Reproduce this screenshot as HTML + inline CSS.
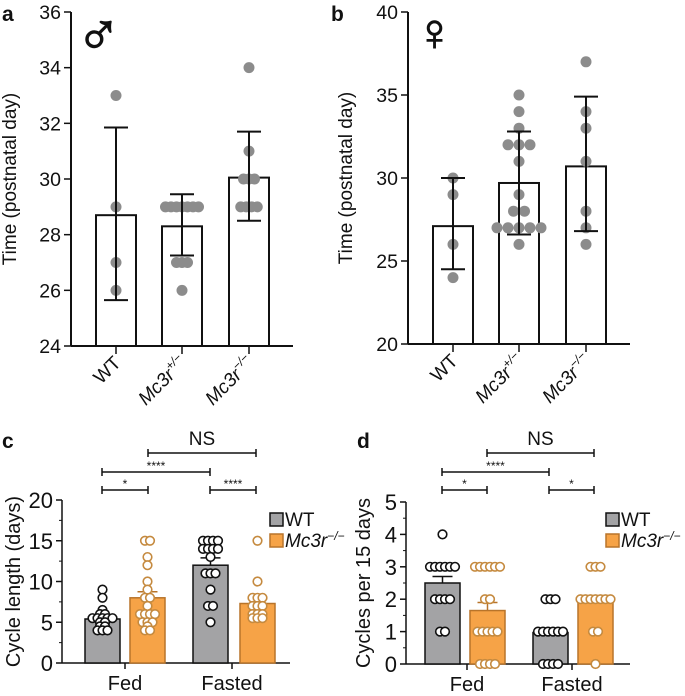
<!DOCTYPE html>
<html><head><meta charset="utf-8"><style>
body{margin:0;background:#fff;}
svg text{font-family:"Liberation Sans",Arial,sans-serif;fill:#111;}
</style></head><body>
<svg id="fig" width="685" height="691" xmlns="http://www.w3.org/2000/svg"></svg>
<script>
// Panel a (male puberty onset)
const aCats=["WT","Mc3r+/−","Mc3r−/−"];
const aMeans=[28.7,28.3,30.05];
const aErrLo=[25.65,27.25,28.5];
const aErrHi=[31.85,29.45,31.7];
const aPts=[[33,29,27,26],[29,29,29,29,29,29,29,27,27,27,26],[34,31,30,30,30,29,29,29,29]];
const aTicks=[24,26,28,30,32,34,36];
// Panel b (female)
const bMeans=[27.1,29.7,30.7];
const bErrLo=[24.5,26.6,26.8];
const bErrHi=[30,32.8,34.9];
const bPts=[[30,29,26,24],[35,34,33,32,32,32,31,29,28,28,27,27,27,27,27,26],[37,34,33,31,28,27,26]];
const bTicks=[20,25,30,35,40];
// Panel c (cycle length)
const cGroups=["Fed","Fasted"];
const cMeans=[[5.4,8.0],[12.0,7.3]];
const cSem=[[0.35,0.75],[0.9,0.6]];
const cPts=[[[9,8,6.5,6,6,5.5,5.5,5.5,5.5,5.5,5,5,4.5,4.5,4,4,4],[15,15,13,12,10,9,8,8,7,6,6,6,6,5,5,5,4.5,4,4]],
            [[15,15,15,15,14,14,14,14,13,11,11,11,9,7,7,5],[15,10,8,8,8,7,7,7,6,6,6,5.5,5.5,5.5]]];
const cTicks=[0,5,10,15,20];
// Panel d (cycles per 15 days)
const dMeans=[[2.5,1.65],[0.97,1.95]];
const dSem=[[0.2,0.25],[0.12,0.15]];
const dPts=[[[4,3,3,3,3,3,3,2,2,2,2,1,1],[3,3,3,3,3,3,2,2,1,1,1,1,1,0,0,0,0]],
            [[2,2,2,1,1,1,1,1,1,0,0,0,0],[3,3,3,2,2,2,2,2,2,2,1,1,0]]];
const dTicks=[0,1,2,3,4,5];

const NS="http://www.w3.org/2000/svg";
const svg=document.getElementById('fig');
function el(tag,attrs,parent){const e=document.createElementNS(NS,tag);for(const k in attrs)e.setAttribute(k,attrs[k]);(parent||svg).appendChild(e);return e;}
function txt(x,y,s,attrs,parent){const t=el('text',Object.assign({x:x,y:y},attrs||{}),parent);t.textContent=s;return t;}
function groupOffsets(vals,sp){const cnt={},idx={};vals.forEach(v=>cnt[v]=(cnt[v]||0)+1);return vals.map(v=>{idx[v]=(idx[v]||0);const o=(idx[v]-(cnt[v]-1)/2)*sp;idx[v]++;return o;});}

function catLabel(x,y,label){
  const t=el('text',{x:x,y:y,'text-anchor':'end','font-size':19,transform:`rotate(-45 ${x} ${y})`});
  
  
  if(label==="WT"){t.textContent="WT";return;}
  const m=label.match(/^Mc3r(.*)$/);
  const s1=el('tspan',{'font-style':'italic'},t);s1.textContent="Mc3r";
  const s2=el('tspan',{'font-size':12,dy:-8,'font-style':'italic'},t);s2.textContent=m[1];
}

function panelAB(o){
  const y=v=>o.y0+(v-o.vmin)/(o.vmax-o.vmin)*(o.y1-o.y0);
  const g=el('g',{});
  
  
  el('line',{x1:o.ax,y1:o.y1,x2:o.ax,y2:o.y0,stroke:'#111','stroke-width':2},g);
  el('line',{x1:o.ax,y1:o.y0,x2:o.axEnd,y2:o.y0,stroke:'#111','stroke-width':2},g);
  o.ticks.forEach(t=>{
    el('line',{x1:o.ax-7,y1:y(t),x2:o.ax,y2:y(t),stroke:'#111','stroke-width':1.5},g);
    const tl=txt(o.ax-10,y(t)+7,String(t),{'text-anchor':'end','font-size':19.5},g);
    
    
  });
  o.means.forEach((m,i)=>{
    const cx=o.cx[i];
    const b=el('rect',{x:cx-20,y:y(m),width:40,height:o.y0-y(m),fill:'#fff',stroke:'#111','stroke-width':2},g);
    
    
    el('line',{x1:cx,y1:o.y0,x2:cx,y2:o.y0+8,stroke:'#111','stroke-width':1.5},g);
    const offs=groupOffsets(o.pts[i],o.sp);
    o.pts[i].forEach((v,j)=>{
      const c=el('circle',{cx:cx+offs[j],cy:y(v),r:5.5,fill:'#8c8c8c'},g);
      
      
    });
    el('line',{x1:cx,y1:y(o.lo[i]),x2:cx,y2:y(o.hi[i]),stroke:'#111','stroke-width':2},g);
    el('line',{x1:cx-12,y1:y(o.lo[i]),x2:cx+12,y2:y(o.lo[i]),stroke:'#111','stroke-width':2},g);
    el('line',{x1:cx-12,y1:y(o.hi[i]),x2:cx+12,y2:y(o.hi[i]),stroke:'#111','stroke-width':2},g);
    catLabel(cx+6,o.y0+18,aCats[i]);
  });
  const yt=txt(0,0,'Time (postnatal day)',{'text-anchor':'middle','font-size':19,transform:`translate(${o.titleX} ${(o.y0+o.y1)/2}) rotate(-90)`},g);
  
  
}

panelAB({name:'panel-a',ax:71,axEnd:293,y0:346,y1:12,vmin:24,vmax:36,ticks:aTicks,means:aMeans,lo:aErrLo,hi:aErrHi,pts:aPts,cx:[116,182,249],sp:5.5,titleX:16});
panelAB({name:'panel-b',ax:408,axEnd:630,y0:344,y1:12,vmin:20,vmax:40,ticks:bTicks,means:bMeans,lo:bErrLo,hi:bErrHi,pts:bPts,cx:[453,519,586],sp:11,titleX:352});

function panelCD(o){
  const y=v=>o.y0-(v/o.vmax)*(o.y0-o.y1);
  const g=el('g',{});
  
  
  el('line',{x1:o.ax,y1:o.y1,x2:o.ax,y2:o.y0,stroke:'#111','stroke-width':1.5},g);
  el('line',{x1:o.ax,y1:o.y0,x2:o.axEnd,y2:o.y0,stroke:'#111','stroke-width':1.5},g);
  o.ticks.forEach((t,k)=>{
    el('line',{x1:o.ax-6,y1:y(t),x2:o.ax,y2:y(t),stroke:'#111','stroke-width':1.5},g);
    const tl=txt(o.ax-9,y(t)+8,String(t),{'text-anchor':'end','font-size':22},g);
    
    
    if(k<o.ticks.length-1){for(let m=1;m<o.minor;m++){const mv=t+(o.ticks[k+1]-t)*m/o.minor;el('line',{x1:o.ax-3,y1:y(mv),x2:o.ax,y2:y(mv),stroke:'#111','stroke-width':1},g);}}
  });
  const fills=['#a3a3a5','#f6a347'],strokes=['#111','#b8742a'],ptStroke=['#111','#c58a3f'];
  cGroups.forEach((gname,gi)=>{
    o.bx[gi].forEach((bx,si)=>{
      const m=o.means[gi][si];
      const b=el('rect',{x:bx,y:y(m),width:35,height:o.y0-y(m),fill:fills[si],stroke:strokes[si],'stroke-width':1.5},g);
      
      
      const cx=bx+17.5;
      el('line',{x1:cx,y1:y(m),x2:cx,y2:y(m+o.sem[gi][si]),stroke:strokes[si],'stroke-width':1.5},g);
      el('line',{x1:cx-10,y1:y(m+o.sem[gi][si]),x2:cx+10,y2:y(m+o.sem[gi][si]),stroke:strokes[si],'stroke-width':1.5},g);
      const pts=o.pts[gi][si];const offs=groupOffsets(pts,o.sp);
      pts.forEach((v,j)=>{
        const c=el('circle',{cx:cx+offs[j],cy:y(v),r:o.r,fill:'#fff',stroke:ptStroke[si],'stroke-width':1.6},g);
        
        
      });
    });
    el('line',{x1:o.tickX[gi],y1:o.y0,x2:o.tickX[gi],y2:o.y0+6,stroke:'#111','stroke-width':1.5},g);
    const gl=txt(o.tickX[gi],o.y0+27,gname,{'text-anchor':'middle','font-size':20},g);
    
    
  });
  const yt=txt(0,0,o.title,{'text-anchor':'middle','font-size':20,transform:`translate(${o.titleX} ${(o.y0+o.y1)/2}) rotate(-90)`},g);
  
  
  o.brackets.forEach(br=>{
    const bg=el('g',{},g);
    
    
    el('line',{x1:br[0],y1:br[2],x2:br[1],y2:br[2],stroke:'#111','stroke-width':1.5},bg);
    el('line',{x1:br[0],y1:br[2]-4,x2:br[0],y2:br[2]+4,stroke:'#111','stroke-width':1.5},bg);
    el('line',{x1:br[1],y1:br[2]-4,x2:br[1],y2:br[2]+4,stroke:'#111','stroke-width':1.5},bg);
    if(br[3]==='NS')txt((br[0]+br[1])/2,br[2]-8,'NS',{'text-anchor':'middle','font-size':19},bg);
    else txt((br[0]+br[1])/2,br[2]-2,br[3],{'text-anchor':'middle','font-size':12},bg);
  });
  const lg=el('g',{},g);
  
  
  el('rect',{x:o.legX,y:o.legY,width:13,height:13,fill:fills[0],stroke:'#111','stroke-width':1.5},lg);
  txt(o.legX+15,o.legY+13,'WT',{'font-size':19},lg);
  el('rect',{x:o.legX,y:o.legY+21,width:13,height:13,fill:fills[1],stroke:strokes[1],'stroke-width':1.5},lg);
  const t=txt(o.legX+15,o.legY+34,'',{'font-size':19},lg);
  const s1=el('tspan',{'font-style':'italic'},t);s1.textContent='Mc3r';
  const s2=el('tspan',{'font-size':12,dy:-7,'font-style':'italic'},t);s2.textContent='−/−';
}

panelCD({name:'panel-c',ax:62,axEnd:290,y0:663,y1:500,vmax:20,ticks:cTicks,minor:2,means:cMeans,sem:cSem,pts:cPts,
  bx:[[85,130],[193,240]],tickX:[125,232],sp:5,r:4.3,title:'Cycle length (days)',titleX:20,
  brackets:[[102,148,490,'*'],[102,210,472,'****'],[148,256,453,'NS'],[210,256,490,'****']],legX:270,legY:513});
panelCD({name:'panel-d',ax:406,axEnd:630,y0:664,y1:502,vmax:5,ticks:dTicks,minor:2,means:dMeans,sem:dSem,pts:dPts,
  bx:[[425,470],[533,578]],tickX:[467,572],sp:5,r:4.3,title:'Cycles per 15 days',titleX:370,
  brackets:[[442,487,490,'*'],[442,549,472,'****'],[487,594,453,'NS'],[549,594,490,'*']],legX:606,legY:513});

[['a',2,21],['b',331,21],['c',2,448],['d',357,448]].forEach(p=>{
  const t=txt(p[1],p[2],p[0],{'font-size':21,'font-weight':'bold'});
  
  
});
const male=txt(76,55,'♂',{'font-size':60,'font-family':'DejaVu Sans, sans-serif',stroke:'#111','stroke-width':1.2});


const fem=txt(415,50,'♀',{'font-size':52,'font-family':'DejaVu Sans, sans-serif',stroke:'#111','stroke-width':1});


</script>
</body></html>
